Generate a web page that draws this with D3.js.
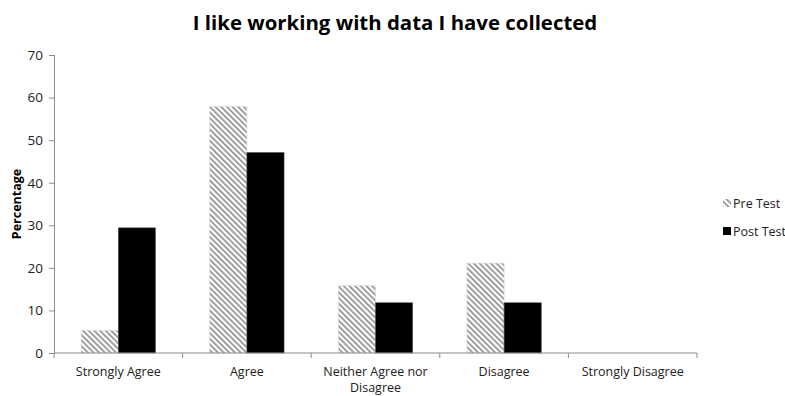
<!DOCTYPE html>
<html><head><meta charset="utf-8">
<script src="https://cdn.jsdelivr.net/npm/d3@7"></script>
<style>body{margin:0;background:#fff}svg{display:block}text{font-family:"Open Sans",Lato,sans-serif}</style>
</head><body><svg id="c" width="785" height="396"></svg>
<script>
const categories = ["Strongly Agree","Agree","Neither Agree nor Disagree","Disagree","Strongly Disagree"];
const seriesNames = ["Pre Test","Post Test"];
const preTest = [5.3, 57.9, 15.8, 21.1, 0];
const postTest = [29.4, 47.1, 11.8, 11.8, 0];
const yTicks = [0,10,20,30,40,50,60,70];

const svg = d3.select("#c");
const m = {left:54, right:88, top:55, bottom:43};
const W = 785, H = 396;
const x = d3.scaleBand().domain(categories).range([m.left, W - m.right]).paddingInner(0).paddingOuter(0);
const y = d3.scaleLinear().domain([0,70]).range([H - m.bottom, m.top]);
const inner = d3.scaleBand().domain(seriesNames).range([0, x.bandwidth()]).paddingOuter(0.73).paddingInner(0);

const defs = svg.append("defs");
const pat = defs.append("pattern").attr("id","hatch").attr("patternUnits","userSpaceOnUse")
  .attr("width",4).attr("height",4).attr("patternTransform","rotate(-45)");
pat.append("rect").attr("width",4).attr("height",4).attr("fill","#fff");
pat.append("rect").attr("x",0).attr("width",1.6).attr("height",4).attr("fill","#8a8a8a");

const fills = {"Pre Test":"url(#hatch)","Post Test":"#000"};
const data = categories.map((c,i)=>({cat:c, vals:[{s:"Pre Test",v:preTest[i]},{s:"Post Test",v:postTest[i]}]}));

// title
svg.append("text").attr("x",395).attr("y",30).attr("text-anchor","middle")
  .attr("font-size",20.4).attr("font-weight","bold").attr("fill","#000").text("I like working with data I have collected");

// bars
const g = svg.append("g");
data.forEach(d=>{
  d.vals.forEach(o=>{
    if(o.v<=0) return;
    g.append("rect").attr("x",x(d.cat)+inner(o.s)).attr("y",y(o.v))
      .attr("width",inner.bandwidth()).attr("height",y(0)-y(o.v))
      .attr("fill",fills[o.s]).attr("stroke", o.s==="Pre Test"?"#d8d8d8":"#555").attr("stroke-width",0.6);
  });
});

// y axis
const ya = svg.append("g").attr("transform",`translate(${m.left},0)`)
  .call(d3.axisLeft(y).tickValues(yTicks).tickSize(5).tickPadding(6));
ya.select(".domain").attr("stroke","#8c8c8c");
ya.selectAll(".tick line").attr("stroke","#8c8c8c");
ya.selectAll("text").attr("font-size",13.5).attr("fill","#222").attr("font-family",'"Open Sans",sans-serif');

// x axis
const xa = svg.append("g").attr("transform",`translate(0,${y(0)})`);
xa.append("line").attr("x1",m.left).attr("x2",W-m.right).attr("stroke","#8c8c8c");
const bounds = categories.map(c=>x(c)).concat([x(categories[categories.length-1])+x.bandwidth()]);
xa.selectAll("line.t").data(bounds).enter().append("line").attr("class","t")
  .attr("x1",d=>d).attr("x2",d=>d).attr("y1",0).attr("y2",5).attr("stroke","#8c8c8c");
const labelLines = {"Neither Agree nor Disagree":["Neither Agree nor","Disagree"]};
categories.forEach(c=>{
  const lines = labelLines[c] || [c];
  const t = xa.append("text").attr("x",x(c)+x.bandwidth()/2).attr("y",23).attr("text-anchor","middle")
    .attr("font-size",12.5).attr("fill","#222");
  lines.forEach((l,i)=>t.append("tspan").attr("x",x(c)+x.bandwidth()/2).attr("dy",i?15.5:0).text(l));
});

// y label
svg.append("text").attr("transform","translate(21,204) rotate(-90)").attr("text-anchor","middle")
  .attr("font-size",12.5).attr("font-weight","bold").attr("fill","#000").text("Percentage");

// legend
const lg = svg.append("g");
seriesNames.forEach((s,i)=>{
  const yy = 208 + i*28;
  lg.append("rect").attr("x",723).attr("y",yy-9).attr("width",8).attr("height",8).attr("fill",fills[s]);
  lg.append("text").attr("x",733).attr("y",yy).attr("font-size",12.5).attr("fill","#222").text(s);
});
</script></body></html>
